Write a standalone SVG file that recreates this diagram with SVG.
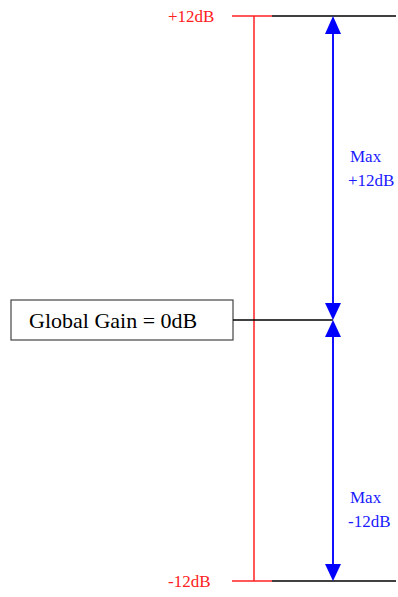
<svg xmlns="http://www.w3.org/2000/svg" width="398" height="597" viewBox="0 0 398 597">
<style>
.red{stroke:#ff2020;stroke-width:1.5;fill:none}
.blk{stroke:#000;stroke-width:1.5;fill:none}
.blu{stroke:#1010ff;stroke-width:2;fill:none}
.rt{font-family:"Liberation Serif",serif;font-size:17px;fill:#ff2020}
.bt{font-family:"Liberation Serif",serif;font-size:17px;fill:#1a1aff}
</style>
<g id="scale">
<line class="red" x1="232" y1="16" x2="272" y2="16"/>
<line class="red" x1="232" y1="581" x2="272" y2="581"/>
<line class="red" x1="254" y1="16" x2="254" y2="581"/>
<line class="blk" x1="272" y1="16" x2="396" y2="16"/>
<line class="blk" x1="272" y1="581" x2="396" y2="581"/>
<text class="rt" x="168" y="22">+12dB</text>
<text class="rt" x="168" y="587">-12dB</text>
</g>
<g id="global-gain">
<rect x="11" y="300" width="222" height="40" fill="#fff" stroke="#444" stroke-width="1.2"/>
<text x="29" y="328" font-family="Liberation Serif,serif" font-size="22" fill="#000">Global Gain = 0dB</text>
</g>
<g id="connectors">
<line class="blk" x1="233" y1="320" x2="333" y2="320"/>
<line class="blu" x1="333" y1="34" x2="333" y2="303"/>
<polygon points="333,16 325,34 341,34" fill="#0000ff"/>
<polygon points="333,320 325,303 341,303" fill="#0000ff"/>
<line class="blu" x1="333" y1="337" x2="333" y2="564"/>
<polygon points="333,320 325,337 341,337" fill="#0000ff"/>
<polygon points="333,581 325,564 341,564" fill="#0000ff"/>
</g>
<g id="labels">
<text class="bt" x="350" y="162">Max</text>
<text class="bt" x="348" y="186">+12dB</text>
<text class="bt" x="350" y="503">Max</text>
<text class="bt" x="348" y="527">-12dB</text>
</g>
</svg>
